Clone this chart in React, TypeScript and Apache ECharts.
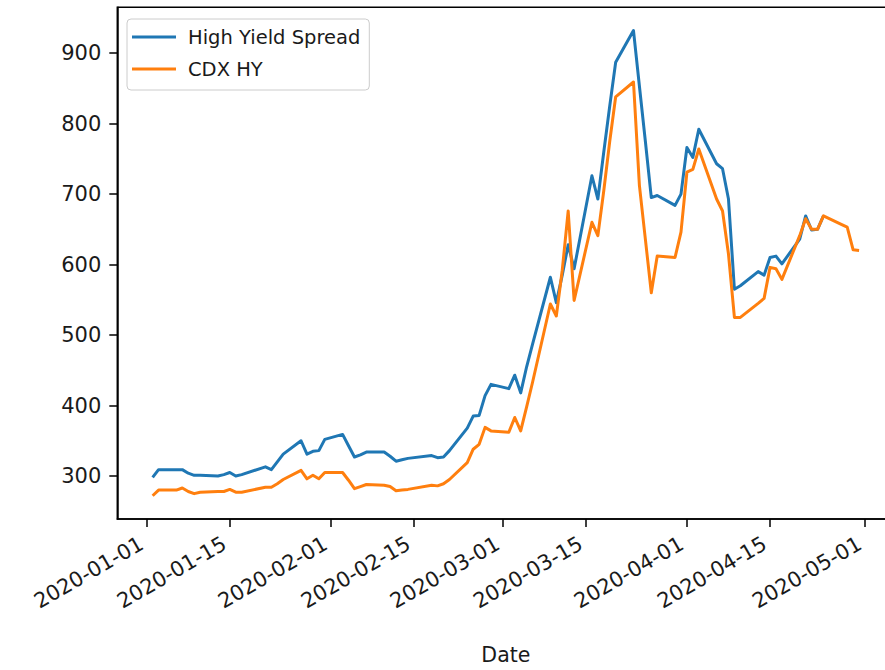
import React, { useEffect, useRef } from "react";
import * as echarts from "echarts";

// Trading days shared by both series (the spread series stops at 2020-04-24)
const tradingDays: string[] = [
  "2020-01-02", "2020-01-03", "2020-01-06", "2020-01-07", "2020-01-08", "2020-01-09", "2020-01-10",
  "2020-01-13", "2020-01-14", "2020-01-15", "2020-01-16", "2020-01-17", "2020-01-21", "2020-01-22",
  "2020-01-23", "2020-01-24", "2020-01-27", "2020-01-28", "2020-01-29", "2020-01-30", "2020-01-31",
  "2020-02-03", "2020-02-04", "2020-02-05", "2020-02-06", "2020-02-07", "2020-02-10", "2020-02-11",
  "2020-02-12", "2020-02-13", "2020-02-14", "2020-02-18", "2020-02-19", "2020-02-20", "2020-02-21",
  "2020-02-24", "2020-02-25", "2020-02-26", "2020-02-27", "2020-02-28",
  "2020-03-02", "2020-03-03", "2020-03-04", "2020-03-05", "2020-03-06", "2020-03-09", "2020-03-10",
  "2020-03-11", "2020-03-12", "2020-03-13", "2020-03-16", "2020-03-17", "2020-03-18", "2020-03-19",
  "2020-03-20", "2020-03-23", "2020-03-24", "2020-03-25", "2020-03-26", "2020-03-27", "2020-03-30",
  "2020-03-31",
  "2020-04-01", "2020-04-02", "2020-04-03", "2020-04-06", "2020-04-07", "2020-04-08", "2020-04-09",
  "2020-04-10", "2020-04-13", "2020-04-14", "2020-04-15", "2020-04-16", "2020-04-17", "2020-04-20",
  "2020-04-21", "2020-04-22", "2020-04-23", "2020-04-24", "2020-04-27", "2020-04-28", "2020-04-29",
  "2020-04-30",
];

// High Yield Spread (bp), 2020-01-02 .. 2020-04-24
const highYieldSpread: number[] = [
  298, 309, 309, 309, 304, 301, 301, 300, 302, 305, 300, 302, 313, 309, 320, 331, 350, 331, 335, 336, 352,
  359, 343, 327, 330, 334, 334, 328, 321, 323, 325, 329, 326, 327, 336, 368, 385, 386, 414, 430,
  424, 443, 418, 455, 487, 582, 546, 585, 628, 594, 726, 693, 760, 825, 887, 932, 853, 775, 695, 698, 684, 700,
  766, 752, 792, 743, 736, 693, 565, 570, 590, 585, 610, 612, 601, 636, 669, 649, 650, 669,
];

// CDX HY (bp), 2020-01-02 .. 2020-04-30
const cdxHy: number[] = [
  272, 280, 280, 283, 278, 275, 277, 278, 278, 281, 277, 277, 284, 284, 289, 295, 308, 296, 301, 296, 305,
  305, 294, 282, 285, 288, 287, 285, 279, 280, 281, 287, 286, 289, 295, 319, 338, 345, 369, 364,
  362, 383, 364, 398, 433, 544, 527, 592, 676, 549, 660, 641, 705, 775, 838, 859, 712, 636, 560, 612, 610, 646,
  731, 735, 764, 693, 676, 615, 525, 525, 545, 552, 596, 594, 579, 641, 665, 650, 650, 669, 657, 653, 621, 620,
];

const seriesNames: string[] = ["High Yield Spread", "CDX HY"];

// Date ticks on the 1st and 15th of each month
const dateTicks: string[] = [
  "2020-01-01", "2020-01-15", "2020-02-01", "2020-02-15", "2020-03-01",
  "2020-03-15", "2020-04-01", "2020-04-15", "2020-05-01",
];

const valueTicks: number[] = [300, 400, 500, 600, 700, 800, 900];

const toUTC = (s: string): number => {
  const [y, m, d] = s.split("-").map(Number);
  return Date.UTC(y, m - 1, d);
};

const App: React.FC = () => {
  const ref = useRef<HTMLDivElement>(null);

  useEffect(() => {
    if (!ref.current) return;
    const chart = echarts.init(ref.current, undefined, { renderer: "svg" });

    const blue = highYieldSpread.map((v, i) => [toUTC(tradingDays[i]), v]);
    const orange = cdxHy.map((v, i) => [toUTC(tradingDays[i]), v]);

    // 5% padding around the data extent on both axes
    const tFirst = toUTC(tradingDays[0]);
    const tLast = toUTC(tradingDays[tradingDays.length - 1]);
    const tPad = (tLast - tFirst) * 0.05;
    const all = highYieldSpread.concat(cdxHy);
    const vMin = Math.min(...all);
    const vMax = Math.max(...all);
    const vPad = (vMax - vMin) * 0.05;

    const tickTimes = dateTicks.map(toUTC);
    const font = "DejaVu Sans";
    const ink = "#1a1a1a";

    chart.setOption({
      animation: false,
      backgroundColor: "#ffffff",
      textStyle: { fontFamily: font },
      grid: {
        left: 117.3,
        right: 5.6,
        top: 7.3,
        bottom: 150.7,
        show: true,
        borderColor: "#000",
        borderWidth: 1.5,
        backgroundColor: "transparent",
      },
      legend: {
        orient: "vertical",
        left: 127,
        top: 19,
        padding: [7, 9, 10, 5],
        itemGap: 10,
        itemWidth: 44,
        itemHeight: 3,
        icon: "rect",
        backgroundColor: "rgba(255,255,255,0.8)",
        borderColor: "#cccccc",
        borderWidth: 1,
        borderRadius: 4,
        textStyle: {
          fontFamily: font,
          fontSize: 19.5,
          color: ink,
          lineHeight: 22,
          padding: [0, 0, 0, 7],
        },
        data: seriesNames,
      },
      xAxis: {
        type: "value",
        min: tFirst - tPad,
        max: tLast + tPad,
        scale: true,
        name: "Date",
        nameLocation: "middle",
        nameGap: 125,
        nameTextStyle: { fontFamily: font, fontSize: 20.5, color: ink },
        axisLine: { show: true, onZero: false, lineStyle: { color: "#000", width: 1.5 } },
        axisTick: {
          show: true,
          length: 8,
          lineStyle: { color: "#000", width: 1.5 },
          customValues: tickTimes,
        },
        axisLabel: {
          customValues: tickTimes,
          rotate: 30,
          margin: 20,
          padding: [0, 6, 0, 0],
          fontFamily: font,
          fontSize: 21,
          color: ink,
          formatter: (v: number) => new Date(v).toISOString().slice(0, 10),
        },
        splitLine: { show: false },
      },
      yAxis: {
        type: "value",
        min: vMin - vPad,
        max: vMax + vPad,
        scale: true,
        axisLine: { show: true, onZero: false, lineStyle: { color: "#000", width: 1.5 } },
        axisTick: {
          show: true,
          length: 8,
          lineStyle: { color: "#000", width: 1.5 },
          customValues: valueTicks,
        },
        axisLabel: {
          customValues: valueTicks,
          margin: 16,
          fontFamily: font,
          fontSize: 21,
          color: ink,
        },
        splitLine: { show: false },
      },
      series: [
        {
          name: seriesNames[0],
          type: "line",
          data: blue,
          showSymbol: false,
          color: "#1f77b4",
          lineStyle: { width: 3, color: "#1f77b4", join: "round" },
        },
        {
          name: seriesNames[1],
          type: "line",
          data: orange,
          showSymbol: false,
          color: "#ff7f0e",
          lineStyle: { width: 3, color: "#ff7f0e", join: "round" },
        },
      ],
    });

    return () => chart.dispose();
  }, []);

  return (
    <div style={{ position: "fixed", left: 0, top: 0, width: 885, height: 670, overflow: "hidden", background: "#fff" }}>
      <div ref={ref} style={{ width: 900, height: 670 }} />
    </div>
  );
};

export default App;
